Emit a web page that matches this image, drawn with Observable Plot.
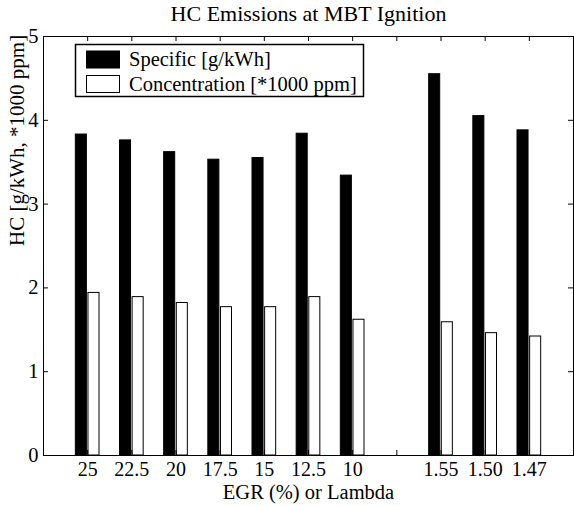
<!DOCTYPE html>
<html>
<head>
<meta charset="utf-8">
<script src="https://cdn.jsdelivr.net/npm/d3@7"></script>
<script src="https://cdn.jsdelivr.net/npm/@observablehq/plot@0.6"></script>
<style>
  html, body { margin: 0; padding: 0; background: white; }
  #chart { width: 574px; height: 506px; }
</style>
</head>
<body>
<div id="chart"></div>
<script>
// ---- data ----
const labels = ["25", "22.5", "20", "17.5", "15", "12.5", "10", "", "1.55", "1.50", "1.47"];
const specific = [3.83, 3.76, 3.62, 3.53, 3.55, 3.84, 3.34, 0, 4.55, 4.05, 3.88];
const concentration = [1.94, 1.89, 1.82, 1.77, 1.77, 1.89, 1.62, 0, 1.59, 1.46, 1.42];
const seriesNames = ["Specific [g/kWh]", "Concentration [*1000 ppm]"];
const yTicks = [0, 1, 2, 3, 4, 5];
const titleText = "HC Emissions at MBT Ignition";
const xLabel = "EGR (%) or Lambda";
const yLabel = "HC [g/kWh, *1000 ppm]";

const rows = labels.map((l, i) => ({pos: i + 1, label: l, specific: specific[i], conc: concentration[i]}));
const positions = rows.map(d => d.pos);
const off = 0.143, hw = 0.125;
const font = "Liberation Serif, Times New Roman, serif";

const svg = Plot.plot({
  width: 574,
  height: 506,
  marginLeft: 43,
  marginRight: 1,
  marginTop: 36,
  marginBottom: 51,
  x: {domain: [0, 12]},
  y: {domain: [0, 5]},
  style: {fontFamily: font, fontSize: "20px", background: "white", color: "black"},
  marks: [
    Plot.rect(rows, {x1: d => d.pos - off - hw, x2: d => d.pos - off + hw, y1: 0, y2: "specific", fill: "black", stroke: "black", strokeWidth: 1}),
    Plot.rect(rows, {x1: d => d.pos + off - hw, x2: d => d.pos + off + hw, y1: 0, y2: "conc", fill: "white", stroke: "black", strokeWidth: 1}),
    // inner ticks
    Plot.ruleX(positions, {x: d => d, y1: 0, y2: 0.06, stroke: "black"}),
    Plot.ruleX(positions, {x: d => d, y1: 4.94, y2: 5, stroke: "black"}),
    Plot.ruleY(yTicks, {y: d => d, x1: 0, x2: 0.113, stroke: "black"}),
    Plot.ruleY(yTicks, {y: d => d, x1: 11.887, x2: 12, stroke: "black"}),
    Plot.frame({stroke: "black", strokeWidth: 1}),
    Plot.axisX(positions, {tickSize: 0, tickPadding: 6, tickFormat: d => labels[d - 1], label: null, fontSize: 20}),
    Plot.axisY(yTicks, {tickSize: 0, tickPadding: 5, tickFormat: d => String(d), label: null, fontSize: 20.5}),
    Plot.text([titleText], {frameAnchor: "top", lineAnchor: "bottom", dy: -16, fontSize: 22, fill: "black"}),
    Plot.text([xLabel], {frameAnchor: "bottom", lineAnchor: "bottom", dy: 43.5, fontSize: 20.5, fill: "black"}),
    Plot.text([yLabel], {frameAnchor: "left", lineAnchor: "bottom", rotate: -90, dx: -20, fontSize: 21, fill: "black"})
  ]
});

// legend
const s = d3.select(svg);
const g = s.append("g").attr("font-family", font).attr("font-size", 20.5).attr("text-anchor", "start");
g.append("rect").attr("x", 75.5).attr("y", 44.5).attr("width", 288).attr("height", 52)
  .attr("fill", "white").attr("stroke", "black").attr("stroke-width", 1.5);
const swatchFill = ["black", "white"];
seriesNames.forEach((name, i) => {
  const cy = 59.5 + i * 24.5;
  g.append("rect").attr("x", 86.5).attr("y", cy - 8.5).attr("width", 33).attr("height", 17)
    .attr("fill", swatchFill[i]).attr("stroke", "black").attr("stroke-width", 1);
  g.append("text").attr("x", 129).attr("y", cy).attr("dy", "0.32em").attr("fill", "black")
    .attr("text-anchor", "start").text(name);
});

document.getElementById("chart").appendChild(svg);
</script>
</body>
</html>
